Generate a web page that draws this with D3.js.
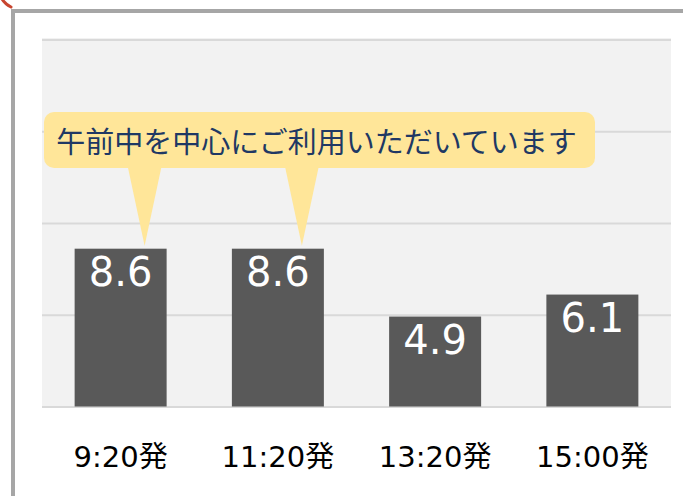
<!DOCTYPE html>
<html><head><meta charset="utf-8">
<script src="https://cdn.jsdelivr.net/npm/d3@7"></script>
<style>
html,body{margin:0;padding:0;background:#fff;}
svg{display:block;}
</style></head>
<body>
<script>
const categories = ["9:20発", "11:20発", "13:20発", "15:00発"];
const values = [8.6, 8.6, 4.9, 6.1];
const valueLabels = ["8.6", "8.6", "4.9", "6.1"];
const gridTicks = [0, 5, 10, 15, 20];
const calloutText = "午前中を中心にご利用いただいています";
const calloutTargets = [0, 1];

const W = 683, H = 496;
const svg = d3.select("body").append("svg").attr("width", W).attr("height", H);

// outer frame
svg.append("rect").attr("x", 13).attr("y", 11).attr("width", W + 20).attr("height", H + 20)
  .attr("fill", "#fff").attr("stroke", "#a6a6a6").attr("stroke-width", 4);
svg.append("path").attr("d", "M2,-1 Q5,4 11,7").attr("fill", "none")
  .attr("stroke", "#c8452f").attr("stroke-width", 3).attr("stroke-linecap", "round");

const plot = {left: 42, right: 671, top: 38, bottom: 407};
const x = d3.scaleBand().domain(categories).range([plot.left, plot.right]).paddingInner(0.415).paddingOuter(0.2075);
const y = d3.scaleLinear().domain([0, 20]).range([406.5, 39.5]);

svg.append("rect").attr("x", plot.left).attr("y", plot.top)
  .attr("width", plot.right - plot.left).attr("height", plot.bottom - plot.top).attr("fill", "#f2f2f2");

const grid = svg.append("g").attr("transform", `translate(${plot.left},0)`)
  .call(d3.axisLeft(y).tickValues(gridTicks).tickSize(-(plot.right - plot.left)).tickFormat(""));
grid.select(".domain").remove();
grid.selectAll("line").attr("stroke", "#d9d9d9").attr("stroke-width", 2);

svg.append("g").selectAll("rect").data(values).join("rect")
  .attr("x", (d, i) => x(categories[i]))
  .attr("y", d => y(d))
  .attr("width", x.bandwidth())
  .attr("height", d => y(0) - y(d))
  .attr("fill", "#595959");

svg.append("g").selectAll("text").data(values).join("text")
  .attr("x", (d, i) => x(categories[i]) + x.bandwidth() / 2)
  .attr("y", d => y(d) + 37)
  .attr("text-anchor", "middle")
  .attr("fill", "#fff")
  .attr("font-family", "'DejaVu Sans', 'Noto Sans CJK JP', sans-serif")
  .attr("font-size", 40)
  .text((d, i) => valueLabels[i]);

// category axis labels
const xAxis = svg.append("g").attr("transform", `translate(0,${plot.bottom})`)
  .call(d3.axisBottom(x).tickSize(0).tickPadding(0));
xAxis.select(".domain").remove();
xAxis.selectAll("text").attr("dy", null).attr("y", 60)
  .attr("fill", "#000")
  .attr("font-family", "'DejaVu Sans', 'Noto Sans CJK JP', sans-serif")
  .attr("font-size", 29);

// callout
const box = {x: 44, y: 112, w: 551, h: 56};
const callout = svg.append("g");
calloutTargets.forEach(i => {
  const cx = x(categories[i]) + x.bandwidth() / 2 + 24;
  const tipY = y(values[i]) - 3;
  callout.append("path")
    .attr("d", `M${cx - 17},${box.y + box.h - 2} L${cx},${tipY} L${cx + 17},${box.y + box.h - 2} Z`)
    .attr("fill", "#ffe699");
});
callout.append("rect").attr("x", box.x).attr("y", box.y).attr("width", box.w).attr("height", box.h)
  .attr("rx", 10).attr("fill", "#ffe699");
callout.append("text").attr("x", box.x + box.w / 2 - 3).attr("y", box.y + box.h / 2)
  .attr("dominant-baseline", "central").attr("text-anchor", "middle")
  .attr("fill", "#203864")
  .attr("font-family", "'Noto Sans CJK JP', sans-serif")
  .attr("font-size", 29)
  .text(calloutText);
</script>
</body></html>
